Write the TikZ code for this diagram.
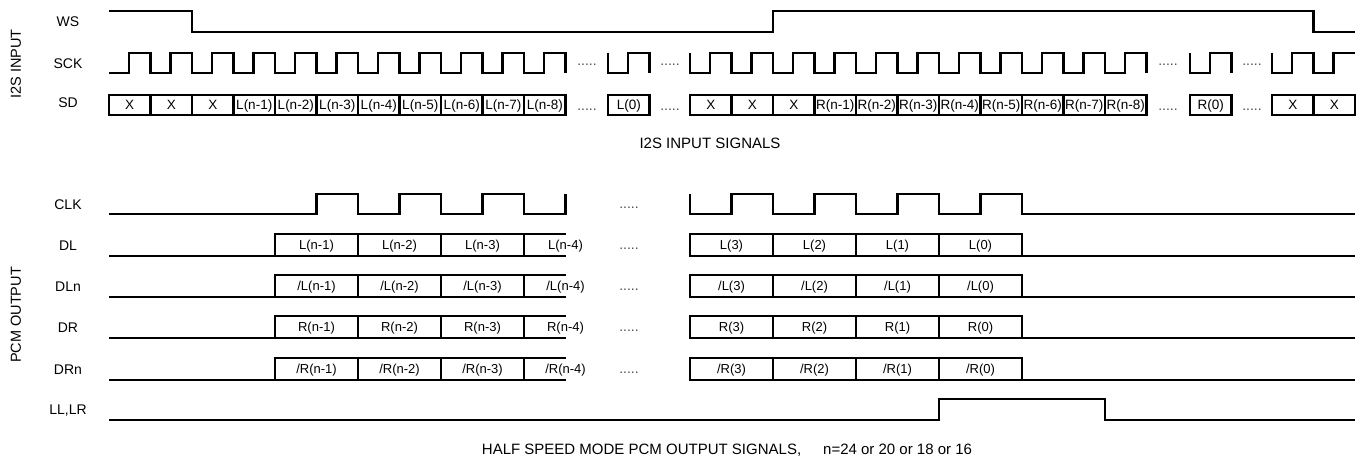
\documentclass[tikz,border=0pt]{standalone}
\usepackage{fontspec}
\setmainfont{Liberation Sans}
\usepackage{tikz}
\usetikzlibrary{positioning}

\newcommand{\bitw}{41.5}
\newcommand{\negbit}{/}

\tikzset{
    wave/.style={line width=2.9pt, line join=miter},
    signame/.style={anchor=base, inner sep=0pt, font=\fontsize{14}{16}\selectfont},
    bitlab/.style={anchor=base, inner sep=0pt, font=\fontsize{13.5}{15}\selectfont},
    pcmlab/.style={anchor=base, inner sep=0pt, font=\fontsize{13}{15}\selectfont},
    gapdots/.style={inner sep=0pt, text=black!70, font=\fontsize{14}{16}\selectfont},
    caption/.style={anchor=base, inner sep=0pt, font=\fontsize{15}{17}\selectfont},
    group/.style={rotate=90, inner sep=0pt, font=\fontsize{14.5}{16}\selectfont},
}

\begin{document}
\begin{tikzpicture}[x=1pt, y=-1pt]
    \useasboundingbox (0,0) rectangle (1365,460);

    % group and signal names
    \node[group] (i2s) at (16,64) {I2S INPUT};
    \node[group] (pcm) at (16,315) {PCM OUTPUT};
    \node[signame] (WS) at (68,27) {WS};
    \node[signame] (SCK) at (68,69) {SCK};
    \node[signame] (SD) at (68,107.5) {SD};
    \node[signame] (CLK) at (68,209) {CLK};
    \node[signame] (DL) at (68,250.5) {DL};
    \node[signame] (DLn) at (68,291) {DLn};
    \node[signame] (DR) at (68,332.5) {DR};
    \node[signame] (DRn) at (68,374.5) {DRn};
    \node[signame] (LLR) at (68,414) {LL,LR};

    % WS
    \draw[wave] (109,11) -- ({109+2*\bitw},11) -- ({109+2*\bitw},32) -- ({690+2*\bitw},32)
        -- ({690+2*\bitw},11) -- ({1272+\bitw},11) -- ({1272+\bitw},32) -- (1355,32);

    % SCK
    \draw[wave] (109,73) foreach \k in {0,...,10} { -- ({109+\k*\bitw+20},73) -- ++(0,-20) -- ({109+(\k+1)*\bitw},53) -- ++(0,20) };
    \foreach \x/\nb in {608/0, 690/10, 1190/0} {
        \draw[wave] (\x,53) -- (\x,73) foreach \k in {0,...,\nb} { -- ({\x+\k*\bitw+20},73) -- ++(0,-20) -- ({\x+(\k+1)*\bitw},53) -- ++(0,20) };
    }
    \draw[wave] (1272,53) -- (1272,73) -- ++(20,0) -- ++(0,-20) -- ({1272+\bitw},53) -- ++(0,20) -- ++(20,0) -- ++(0,-20) -- (1355,53);

    % SD
    \foreach \lab [count=\i from 0] in {X,X,X,L(n-1),L(n-2),L(n-3),L(n-4),L(n-5),L(n-6),L(n-7),L(n-8)} {
        \draw[wave] ({109+\i*\bitw},95) rectangle ++(\bitw,20);
        \node[bitlab] (sdA\i) at ({109+(\i+0.5)*\bitw},109) {\lab};
    }
    \draw[wave] (608,95) rectangle ++(\bitw,20);
    \node[bitlab] (sdB) at ({608+0.5*\bitw},109) {L(0)};
    \foreach \lab [count=\i from 0] in {X,X,X,R(n-1),R(n-2),R(n-3),R(n-4),R(n-5),R(n-6),R(n-7),R(n-8)} {
        \draw[wave] ({690+\i*\bitw},95) rectangle ++(\bitw,20);
        \node[bitlab] (sdC\i) at ({690+(\i+0.5)*\bitw},109) {\lab};
    }
    \draw[wave] (1190,95) rectangle ++(\bitw,20);
    \node[bitlab] (sdD) at ({1190+0.5*\bitw},109) {R(0)};
    \foreach \i in {0,1} {
        \draw[wave] ({1272+\i*\bitw},95) rectangle ++(\bitw,20);
        \node[bitlab] (sdE\i) at ({1272+(\i+0.5)*\bitw},109) {X};
    }
    \foreach \x in {587,670,1168,1252} {
        \node[gapdots] (sckgap\x) at (\x,65) {.....};
        \node[gapdots] (sdgap\x) at (\x,110) {.....};
    }
    \node[caption] (i2scap) at (710,148) {I2S INPUT SIGNALS};

    % CLK
    \draw[wave] (109,214) foreach \k in {5,7,9} { -- ({109+\k*\bitw},214) -- ++(0,-20) -- ({109+(\k+1)*\bitw},194) -- ++(0,20) }
        -- ({109+11*\bitw},214) -- ++(0,-20);
    \draw[wave] (690,194) -- (690,214) foreach \k in {1,3,5,7} { -- ({690+\k*\bitw},214) -- ++(0,-20) -- ({690+(\k+1)*\bitw},194) -- ++(0,20) }
        -- (1355,214);
    \node[gapdots] (clkgap) at (629,208) {.....};

    % DL, DLn, DR, DRn
    \foreach \yb/\pre [count=\r] in {256/L, 297/{\negbit L}, 338/R, 380/{\negbit R}} {
        \draw[wave] (109,\yb) -- ({109+11*\bitw},\yb);
        \draw[wave] ({109+4*\bitw},\yb) -- ({109+4*\bitw},{\yb-22}) -- ({109+11*\bitw},{\yb-22});
        \foreach \k in {6,8,10} \draw[wave] ({109+\k*\bitw},\yb) -- ({109+\k*\bitw},{\yb-22});
        \draw[wave] (690,{\yb-22}) rectangle ({690+8*\bitw},\yb);
        \draw[wave] (690,\yb) -- (1355,\yb);
        \foreach \k in {2,4,6} \draw[wave] ({690+\k*\bitw},\yb) -- ({690+\k*\bitw},{\yb-22});
        \foreach \b [count=\j from 0] in {n-1,n-2,n-3,n-4}
            \node[pcmlab] (bitL\r\j) at ({109+(5+2*\j)*\bitw},{\yb-7}) {\pre(\b)};
        \foreach \b [count=\j from 0] in {3,2,1,0}
            \node[pcmlab] (bitR\r\j) at ({690+(1+2*\j)*\bitw},{\yb-7}) {\pre(\b)};
        \node[gapdots] (pcmgap\r) at (629,{\yb-7}) {.....};
    }

    % LL,LR
    \draw[wave] (109,420) -- ({690+6*\bitw},420) -- ++(0,-21) -- ({690+10*\bitw},399) -- ++(0,21) -- (1355,420);
    \node[caption] (pcmcap) at (727,454) {HALF SPEED MODE PCM OUTPUT SIGNALS,\hspace{22pt}n=24 or 20 or 18 or 16};
\end{tikzpicture}
\end{document}
